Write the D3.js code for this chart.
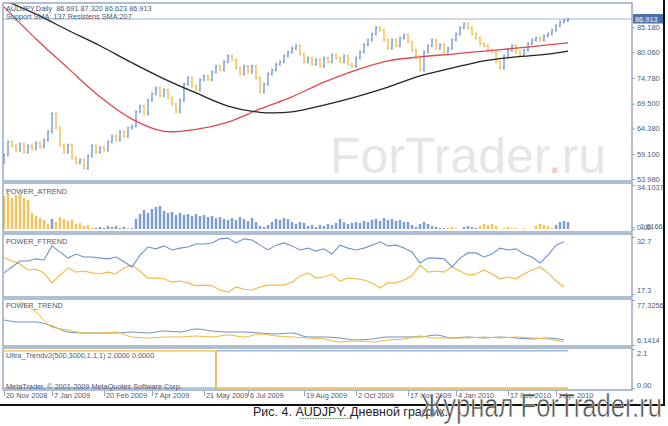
<!DOCTYPE html>
<html>
<head>
<meta charset="utf-8">
<script src="https://cdn.jsdelivr.net/npm/d3@7"></script>
<style>
  body { margin: 0; background: #fff; }
  text { font-family: "Liberation Sans", Arial, sans-serif; }
</style>
</head>
<body>
<div id="chart"></div>
<script>
// ---- Data ----

// daily closes, one every ~2 trading days, 20 Nov 2008 .. Apr 2010
var closes = [
  58.9, 61.6, 60.8, 59.9, 61.2, 59.5, 60.8, 60.2, 61.4, 60.6, 62.0, 63.7, 67.4, 64.5, 61.0, 59.5,
  61.0, 58.3, 57.3, 57.9, 56.2, 58.7, 60.8, 59.5, 60.4, 59.9, 61.6, 62.8, 62.0, 63.7, 62.8, 64.5,
  64.9, 67.8, 69.0, 67.4, 70.2, 71.5, 72.7, 71.1, 72.3, 70.7, 69.4, 67.8, 70.2, 73.5, 74.8, 73.1,
  72.3, 74.4, 75.2, 74.4, 76.0, 77.2, 76.4, 78.1, 79.3, 78.5, 76.8, 75.6, 77.2, 76.0, 77.2, 74.8,
  71.9, 73.5, 75.6, 76.4, 77.6, 78.1, 79.3, 80.1, 80.9, 81.4, 79.7, 78.1, 78.9, 77.6, 78.5, 77.2,
  78.9, 78.1, 79.5, 78.9, 78.1, 79.3, 77.6, 77.2, 78.9, 80.1, 81.6, 82.6, 83.8, 85.1, 84.6, 82.6,
  80.9, 82.6, 81.4, 83.0, 83.6, 82.2, 80.5, 78.9, 76.4, 80.1, 81.4, 82.6, 80.9, 81.6, 80.1, 80.9,
  82.6, 83.8, 85.1, 85.9, 85.1, 83.8, 83.0, 81.8, 81.4, 80.5, 80.1, 78.1, 76.8, 79.3, 80.5, 81.4,
  80.1, 79.5, 80.5, 81.8, 82.6, 83.0, 82.6, 83.4, 83.8, 84.6, 85.5, 86.3, 86.6, 86.9
];

// SMA lines, sampled every 8 bars (last point = last bar)
var smaIndex = [0, 8, 16, 24, 32, 40, 48, 56, 64, 72, 80, 88, 96, 104, 112, 120, 128, 136, 141];
var sma137 = [89.4, 82.8, 76.8, 70.9, 66.3, 63.8, 64.2, 65.7, 68.4, 70.9, 73.9, 76.4, 78.3, 79.1, 79.7, 80.3, 80.9, 81.6, 82.0];
var sma207 = [90.8, 87.9, 84.6, 81.4, 77.9, 74.6, 71.7, 69.0, 67.7, 67.8, 69.2, 70.9, 72.9, 75.2, 76.8, 78.3, 79.1, 79.7, 80.3];

// POWER_ATREND histogram: positive = blue (bull), negative = orange (bear)
var atrend = [
  -25.6, -27.9, -24.0, -26.4, -27.1, -24.0, -22.5, -12.4, -10.1, -8.5, -7.0, -3.9, 7.8, -5.4, -9.3, -7.8,
  -6.2, -7.0, -3.9, -4.7, -2.3, -3.1, -0.8, 0.8, 1.6, 0.8, 2.3, 1.6, 2.3, 0.8, 1.6, 0.4,
  0.8, 7.8, 11.6, 14.7, 12.4, 15.5, 17.1, 17.8, 14.0, 12.4, 13.2, 10.9, 12.4, 10.9, 11.6, 10.1,
  11.6, 10.1, 10.9, 9.3, 10.1, 8.5, 9.3, 7.8, 7.0, 8.5, 7.0, 9.3, 7.8, 6.2, 8.5, 5.4,
  2.3, 1.6, 3.1, 5.4, 7.8, 7.0, 8.5, 7.8, 5.4, 3.9, 5.4, 4.7, 2.3, 3.1, 1.6, 3.1,
  2.3, 3.9, 3.1, 4.7, 7.8, 5.4, 3.9, 4.7, 5.4, 4.7, 6.2, 5.4, 7.0, 7.8, 6.2, 8.5,
  7.0, 7.8, 6.2, 7.0, 5.4, 5.4, 3.1, 1.6, 3.9, 5.4, 3.9, 2.3, 1.6, 0.8, 0.8, -0.8,
  -1.6, -0.8, 0, 1.6, 2.3, 1.6, 0.8, -2.3, -3.9, -3.1, -3.9, -2.3, 0, -0.8, -1.6, -0.8,
  -0.8, 0, -0.8, 0, 0, -2.3, -3.9, -3.1, -2.3, -0.8, 3.1, 5.4, 6.2, 5.4
];

// POWER_FTREND lines, every 2 bars
var ftrendBull = [
  23.0, 24.6, 26.2, 26.2, 26.8, 26.5, 30.3, 28.6, 27.0, 28.1, 27.3, 27.3, 27.0, 26.8, 27.3, 26.0,
  24.6, 27.8, 30.0, 29.5, 30.3, 29.2, 29.7, 30.0, 30.8, 30.8, 31.1, 32.2, 32.4, 31.1, 32.2, 31.9,
  30.5, 29.2, 30.5, 31.1, 30.3, 29.2, 29.7, 28.9, 29.5, 28.1, 30.5, 29.7, 29.2, 29.7, 30.5, 31.4,
  30.3, 30.5, 29.7, 28.6, 25.7, 27.0, 27.0, 26.8, 24.6, 27.0, 28.4, 28.4, 27.3, 28.1, 29.7, 29.2,
  29.5, 28.1, 27.3, 25.7, 27.8, 30.5, 31.4
];
var ftrendBear = [
  27.0, 26.2, 25.4, 23.8, 24.0, 23.0, 20.3, 22.4, 24.3, 23.2, 23.5, 23.0, 22.7, 23.2, 22.7, 24.3,
  25.1, 23.5, 21.6, 21.6, 21.4, 20.5, 20.8, 20.3, 19.5, 19.7, 19.5, 18.4, 17.8, 19.2, 18.6, 18.4,
  19.2, 19.7, 19.7, 19.7, 20.5, 22.2, 23.0, 21.6, 21.9, 22.7, 20.8, 21.6, 21.4, 21.1, 20.3, 18.9,
  20.3, 20.3, 21.1, 22.2, 25.1, 23.2, 23.5, 23.2, 24.6, 23.5, 22.4, 22.7, 23.8, 22.7, 21.4, 21.9,
  21.4, 22.7, 23.8, 24.6, 23.0, 20.8, 19.2
];

// POWER_TREND lines, every 4 bars
var trendBull = [
  45.7, 42.5, 42.5, 36.2, 26.7, 25.1, 25.1, 25.1, 26.7, 25.1, 28.3, 26.7, 31.5, 28.3, 26.7, 26.7,
  25.1, 23.6, 25.1, 18.8, 18.8, 17.2, 14.1, 15.6, 18.8, 18.8, 18.8, 22.0, 17.2, 18.8, 17.2, 18.8,
  17.2, 15.6, 17.2, 14.1
];
var trendBear = [
  null, 74.2, 58.3, 34.6, 29.9, 25.1, 25.1, 26.7, 18.8, 17.2, 18.8, 18.8, 20.4, 18.8, 22.0, 18.8,
  23.6, 20.4, 18.8, 17.2, 15.6, 10.9, 12.5, 10.9, 14.1, 15.6, 20.4, 17.2, 17.2, 17.2, 18.8, 17.2,
  18.8, 17.2, 15.6, 10.9
];

// Ultra_Trendv2 step lines (bar index where value changes)
var ultraIndex = [0, 53, 141];
var ultraBull = [0, 2, 2];
var ultraBear = [2, 0, 0];

// tick labels
var priceTicks = [85.18, 80.06, 74.78, 69.5, 64.38, 59.1, 53.98];
var lastPrice = 86.913;
var dateIndex = [0, 12, 25, 37, 50, 61, 75, 88, 101, 113, 126, 138];
var dateLabels = ["20 Nov 2008", "7 Jan 2009", "20 Feb 2009", "7 Apr 2009", "21 May 2009", "6 Jul 2009",
                  "19 Aug 2009", "2 Oct 2009", "17 Nov 2009", "4 Jan 2010", "17 Feb 2010", "1 Apr 2010"];

// ---- Layout ----
var width = 668, height = 426;
var left = 3, right = 632;
var blue = "#6f93c9", orange = "#f0b93e", frame = "#8fa4c4", txt = "#4d5872";
var panels = {
  main:   {top: 3,   bottom: 181},
  atrend: {top: 183, bottom: 232},
  ftrend: {top: 234, bottom: 297},
  trend:  {top: 299, bottom: 346},
  ultra:  {top: 348, bottom: 390}
};

var svg = d3.select("#chart")
  .append("svg")
    .attr("width", width)
    .attr("height", height);

svg.append("rect").attr("width", width).attr("height", height).attr("fill", "#fff");

// bar index -> pixel (chart shift leaves empty room at the right)
var x = d3.scaleLinear().domain([0, 157]).range([4, 632]);

// y scales for each panel
var yMain = d3.scaleLinear().domain([53.98, 86.913]).range([179, 19]);
var yA = d3.scaleLinear().domain([0, 34.1037]).range([229, 185]);
var yF = d3.scaleLinear().domain([17.3, 32.7]).range([294, 237]);
var yT = d3.scaleLinear().domain([6.1414, 77.3256]).range([345, 300]);
var yU = d3.scaleLinear().domain([0, 2.1]).range([388, 349]);

// clip paths per panel
Object.keys(panels).forEach(function(k) {
  var p = panels[k];
  svg.append("clipPath").attr("id", "clip-" + k)
    .append("rect").attr("x", left).attr("y", p.top).attr("width", right - left).attr("height", p.bottom - p.top);
});

// Watermark inside the main panel
var wm = svg.append("text")
  .attr("x", 330).attr("y", 173)
  .style("font-size", "50px")
  .attr("fill", "#e6e6e6");
wm.append("tspan").text("ForTrader");
wm.append("tspan").attr("fill", "#f6caca").text(".");
wm.append("tspan").text("ru");

// ---- Main panel ----
var gMain = svg.append("g").attr("clip-path", "url(#clip-main)");

// current price line
gMain.append("line")
  .attr("x1", left).attr("x2", right)
  .attr("y1", yMain(lastPrice)).attr("y2", yMain(lastPrice))
  .attr("stroke", "#9fb2cf").attr("stroke-width", 1);

// bars (open = previous close), small wick past both ends
var bars = gMain.append("g").selectAll("g")
  .data(closes)
  .join("g")
    .attr("stroke", function(d, i) { return d >= (i ? closes[i - 1] : d) ? blue : orange; });
bars.append("line")
  .attr("stroke-width", 1.3)
  .attr("x1", function(d, i) { return x(i); })
  .attr("x2", function(d, i) { return x(i); })
  .attr("y1", function(d, i) {
    var o = i ? closes[i - 1] : d - 1.5;
    return yMain(Math.min(o, d)) + 1.5;
  })
  .attr("y2", function(d, i) {
    var o = i ? closes[i - 1] : d;
    return yMain(Math.max(o, d)) - 1.5;
  });
bars.append("line")
  .attr("stroke-width", 1)
  .attr("x1", function(d, i) { return x(i) - 1.2; })
  .attr("x2", function(d, i) { return x(i); })
  .attr("y1", function(d, i) { return yMain(i ? closes[i - 1] : d); })
  .attr("y2", function(d, i) { return yMain(i ? closes[i - 1] : d); });
bars.append("line")
  .attr("stroke-width", 1)
  .attr("x1", function(d, i) { return x(i); })
  .attr("x2", function(d, i) { return x(i) + 1.2; })
  .attr("y1", function(d) { return yMain(d); })
  .attr("y2", function(d) { return yMain(d); });

// moving averages
var smaLine = function(vals) {
  return d3.line()
    .x(function(d, i) { return x(smaIndex[i]); })
    .y(function(d) { return yMain(d); })
    .curve(d3.curveCatmullRom)(vals);
};
gMain.append("path").attr("d", smaLine(sma137)).attr("fill", "none").attr("stroke", "#e0474c").attr("stroke-width", 1.3);
gMain.append("path").attr("d", smaLine(sma207)).attr("fill", "none").attr("stroke", "#222").attr("stroke-width", 1.3);

// ---- POWER_ATREND ----
svg.append("g").attr("clip-path", "url(#clip-atrend)")
  .selectAll("rect")
  .data(atrend)
  .join("rect")
    .attr("x", function(d, i) { return x(i) - 1.2; })
    .attr("width", 2.4)
    .attr("y", function(d) { return yA(Math.abs(d)); })
    .attr("height", function(d) { return yA(0) - yA(Math.abs(d)); })
    .attr("fill", function(d) { return d >= 0 ? "#7b9dd2" : "#f5c25a"; });

// ---- POWER_FTREND ----
var gF = svg.append("g").attr("clip-path", "url(#clip-ftrend)");
var lineF = d3.line().x(function(d, i) { return x(i * 2); }).y(function(d) { return yF(d); });
gF.append("path").attr("d", lineF(ftrendBear)).attr("fill", "none").attr("stroke", orange).attr("stroke-width", 1.1);
gF.append("path").attr("d", lineF(ftrendBull)).attr("fill", "none").attr("stroke", blue).attr("stroke-width", 1.1);

// ---- POWER_TREND ----
var gT = svg.append("g").attr("clip-path", "url(#clip-trend)");
var lineT = d3.line()
  .defined(function(d) { return d !== null; })
  .x(function(d, i) { return x(i * 4); })
  .y(function(d) { return yT(d); })
  .curve(d3.curveMonotoneX);
gT.append("path").attr("d", lineT(trendBull)).attr("fill", "none").attr("stroke", blue).attr("stroke-width", 1);
gT.append("path").attr("d", lineT(trendBear)).attr("fill", "none").attr("stroke", orange).attr("stroke-width", 1);

// ---- Ultra_Trendv2 ----
var gU = svg.append("g").attr("clip-path", "url(#clip-ultra)");
var lineU = d3.line().x(function(d, i) { return x(ultraIndex[i]); }).y(function(d) { return yU(d); }).curve(d3.curveStepAfter);
gU.append("path").attr("d", lineU(ultraBull)).attr("fill", "none").attr("stroke", blue).attr("stroke-width", 1);
gU.append("path").attr("d", lineU(ultraBear)).attr("fill", "none").attr("stroke", orange).attr("stroke-width", 1.4);

// ---- Panel frames ----
Object.keys(panels).forEach(function(k) {
  var p = panels[k];
  svg.append("rect")
    .attr("x", left).attr("y", p.top)
    .attr("width", right - left).attr("height", p.bottom - p.top)
    .attr("fill", "none").attr("stroke", frame).attr("stroke-width", 1.4);
});

// ---- Right axes ----
function rightAxis(scale, values, fmt, nudges) {
  var g = svg.append("g")
    .attr("transform", "translate(" + right + ",0)")
    .call(d3.axisRight(scale).tickValues(values).tickSize(3).tickPadding(2).tickFormat(fmt));
  g.select(".domain").remove();
  g.selectAll("line").attr("stroke", frame);
  g.selectAll("text")
    .attr("fill", txt)
    .style("font-size", "7.4px")
    .attr("dy", function(d, i) { return (0.32 + (nudges ? nudges[i] : 0)) + "em"; });
  return g;
}
rightAxis(yMain, priceTicks, d3.format(".3f"));
rightAxis(yA, [34.1037, 0], function(d) { return d ? "34.1037" : "0.00"; }, [0.3, -0.2]);
rightAxis(yA, [1.6166], function() { return "1.6166"; }, [-0.1]).select("text").attr("x", 8);
rightAxis(yF, [32.7, 17.3], d3.format(".1f"), [0.5, -0.5]);
rightAxis(yT, [77.3256, 6.1414], d3.format(".4f"), [0.7, -0.6]);
rightAxis(yU, [2.1, 0], function(d) { return d ? "2.1" : "0.00"; }, [0.5, -0.4]);

// highlighted last price
svg.append("rect")
  .attr("x", right + 1).attr("y", yMain(lastPrice) - 5)
  .attr("width", 30).attr("height", 9.5)
  .attr("fill", "#4d72a8");
svg.append("text")
  .attr("x", right + 3).attr("y", yMain(lastPrice) + 2.6)
  .attr("fill", "#fff").style("font-size", "7.4px")
  .text(d3.format(".3f")(lastPrice));

// ---- Date axis ----
var gx = svg.append("g")
  .attr("transform", "translate(0," + (panels.ultra.bottom + 1) + ")")
  .call(d3.axisBottom(x).tickValues(dateIndex).tickSize(5)
        .tickFormat(function(d, i) { return dateLabels[i]; }));
gx.select(".domain").remove();
gx.selectAll("line").attr("stroke", frame);
gx.selectAll("text")
  .attr("text-anchor", "start")
  .attr("x", 1.5).attr("y", 2)
  .attr("fill", txt)
  .style("font-size", "7.3px");

// ---- Texts ----
var labels = [
  {t: "AUDJPY,Daily  86.691 87.320 86.623 86.913", y: 11},
  {t: "Support SMA: 137 Resistens SMA:207", y: 18.5},
  {t: "POWER_ATREND", y: 194},
  {t: "POWER_FTREND", y: 244},
  {t: "POWER_TREND", y: 308},
  {t: "Ultra_Trendv2(500,3000,1,1,1) 2.0000 0.0000", y: 358},
  {t: "MetaTrader, \u00a9 2001-2009 MetaQuotes Software Corp.", y: 389}
];
svg.selectAll(".lbl")
  .data(labels)
  .join("text")
    .attr("class", "lbl")
    .attr("x", 6)
    .attr("y", function(d) { return d.y; })
    .attr("fill", txt)
    .style("font-size", "7.3px")
    .attr("xml:space", "preserve")
    .text(function(d) { return d.t; });

// black screenshot edges
svg.append("line").attr("x1", 0).attr("x2", 665).attr("y1", 405).attr("y2", 405).attr("stroke", "#111").attr("stroke-width", 2);
svg.append("line").attr("x1", 664).attr("x2", 664).attr("y1", 0).attr("y2", 405).attr("stroke", "#111").attr("stroke-width", 2);

// caption
svg.append("text")
  .attr("x", 253).attr("y", 416)
  .attr("fill", "#222")
  .style("font-size", "12.5px")
  .text("Рис. 4. AUDJPY. Дневной график.");
svg.append("line")
  .attr("x1", 300).attr("x2", 350).attr("y1", 418.5).attr("y2", 418.5)
  .attr("stroke", "#5aa05a").attr("stroke-width", 1).attr("stroke-dasharray", "1.5,1");

// bottom watermark
svg.append("text")
  .attr("x", 420).attr("y", 417)
  .attr("fill", "#505050")
  .attr("stroke", "#fff").attr("stroke-width", 0.6)
  .attr("textLength", 242).attr("lengthAdjust", "spacingAndGlyphs")
  .style("font-size", "33px")
  .text("Журнал ForTrader.ru");
</script>
</body>
</html>
